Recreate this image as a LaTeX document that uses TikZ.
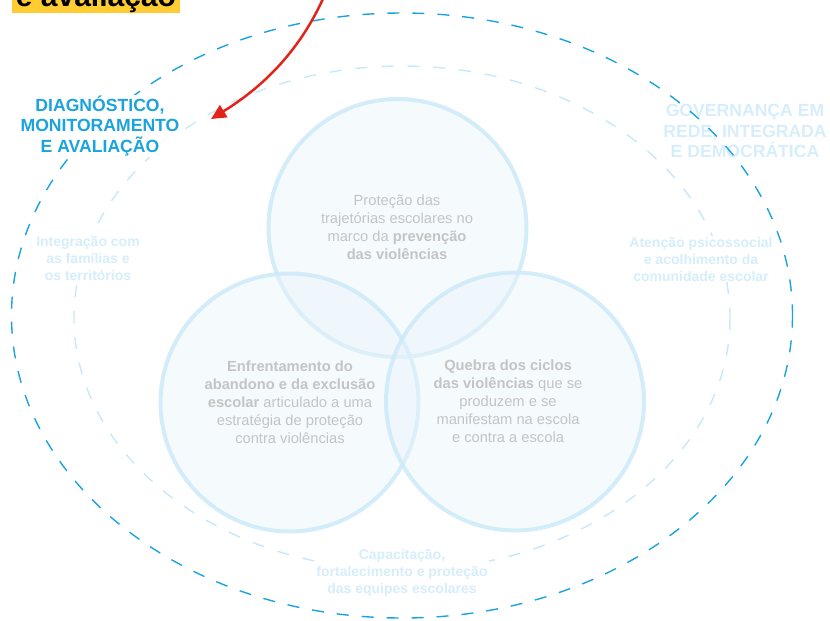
\documentclass[tikz,border=0pt]{standalone}
\usepackage{fontspec}
\setmainfont{Liberation Sans}
\usetikzlibrary{arrows.meta}
\definecolor{tblue}{RGB}{27,163,221}
\definecolor{lblue}{RGB}{214,238,251}
\definecolor{dblue}{RGB}{200,232,248}
\definecolor{cstroke}{RGB}{205,234,248}
\definecolor{cfill}{RGB}{232,243,251}
\definecolor{tgray}{RGB}{196,196,196}
\definecolor{tyellow}{RGB}{255,204,51}
\definecolor{tred}{RGB}{226,35,26}
\tikzset{
  venn/.style={circle, minimum size=258, inner sep=0, line width=4, draw=cstroke, draw opacity=0.85, fill=cfill, fill opacity=0.45},
  venntext/.style={align=center, text=tgray, font=\fontsize{14.7}{18}\selectfont, inner sep=0},
  biglabel/.style={align=center, font=\bfseries\fontsize{17.6}{20.5}\selectfont, inner sep=1},
  smalllabel/.style={align=center, text=lblue, font=\bfseries\fontsize{14}{17}\selectfont, fill=white, inner sep=1},
  outerdash/.style={draw=tblue, line width=1.4, dash pattern=on 12pt off 13pt},
  innerdash/.style={draw=dblue, line width=1.4, dash pattern=on 12pt off 14pt},
  redarrow/.style={draw=tred, line width=2.5, -{Triangle[length=15,width=14]}}
}
\begin{document}
\begin{tikzpicture}[x=1pt,y=-1pt]
\useasboundingbox (0,0) rectangle (830,621);
\clip (0,0) rectangle (830,621);
% yellow heading fragment
\fill[tyellow] (12,-40) rectangle (180,13);
\node[anchor=base, font=\bfseries\fontsize{30}{30}\selectfont, inner sep=0] (head) at (96,6) {e avaliação};
% governance label (under the dashes)
\node[biglabel, text=lblue] (gov) at (745,131) {GOVERNANÇA EM\\REDE, INTEGRADA\\E DEMOCRÁTICA};
% dashed ellipses
\draw[innerdash] (402,318) ellipse [x radius=328, y radius=252];
\draw[outerdash] (402,315.5) ellipse [x radius=390.5, y radius=302.5];
% venn circles
\node[venn] (top) at (397.5,228) {};
\node[venn] (left) at (289.5,402.5) {};
\node[venn] (right) at (515,401.5) {};
% circle texts
\node[venntext] (ttop) at (397,227.5) {Proteção das\\trajetórias escolares no\\marco da \textbf{prevenção}\\\textbf{das violências}};
\node[venntext] (tleft) at (290,402) {\textbf{Enfrentamento do}\\\textbf{abandono e da exclusão}\\\textbf{escolar} articulado a uma\\estratégia de proteção\\contra violências};
\node[venntext] (tright) at (508,401) {\textbf{Quebra dos ciclos}\\\textbf{das violências} que se\\produzem e se\\manifestam na escola\\e contra a escola};
% labels
\node[biglabel, text=tblue, fill=white] (diag) at (100,126) {DIAGNÓSTICO,\\MONITORAMENTO\\E AVALIAÇÃO};
\node[smalllabel] (fam) at (88,259) {Integração com\\as famílias e\\os territórios};
\node[smalllabel] (aten) at (701,259) {Atenção psicossocial\\e acolhimento da\\comunidade escolar};
\node[smalllabel] (cap) at (402,573) {Capacitação,\\fortalecimento e proteção\\das equipes escolares};
% red arrow
\coordinate (astart) at (330,-18);
\coordinate (aend) at (211,119);
\draw[redarrow] (astart) .. controls (306,45) and (266,85) .. (aend);
\end{tikzpicture}
\end{document}
